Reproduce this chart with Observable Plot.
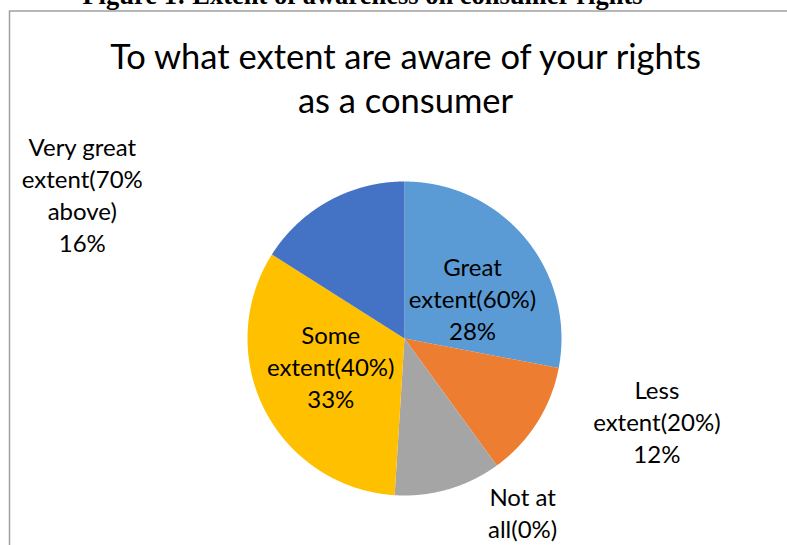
<!DOCTYPE html>
<html>
<head>
<meta charset="utf-8">
<script src="https://cdn.jsdelivr.net/npm/d3@7"></script>
<script src="https://cdn.jsdelivr.net/npm/@observablehq/plot@0.6"></script>
<style>
  html, body { margin: 0; padding: 0; background: #fff; overflow: hidden; }
  #chart { width: 787px; height: 545px; }
</style>
</head>
<body>
<div id="chart"></div>
<script>
// ---- data ----
const categories = ["Great extent(60%)", "Less extent(20%)", "Not at all(0%)", "Some extent(40%)", "Very great extent(70% above)"];
const wrappedNames = ["Great\nextent(60%)", "Less\nextent(20%)", "Not at\nall(0%)", "Some\nextent(40%)", "Very great\nextent(70%\nabove)"];
const shares = [28, 12, 11, 33, 16];
const sliceColors = ["#5B9BD5", "#ED7D31", "#A5A5A5", "#FFC000", "#4472C4"];
const captionText = "Figure 1: Extent of awareness on consumer rights";
const titleText = "To what extent are aware of your rights\nas a consumer";

// ---- layout (label placement in radius units / degrees clockwise from top) ----
const labelPolar = [[0.506, 58.9], [1.69, 108], [1.42, 148], [0.50, 249.9], [2.25, 294.2]];
const W = 787, H = 545, CX = 404, CY = 338, R = 157;

const rows = categories.map((c, i) => ({cat: c, value: shares[i], i}));
const arcs = d3.pie().sort(null).value(d => d.value)(rows);

const pts = [];
for (const a of arcs) {
  pts.push({x: 0, y: 0, cat: a.data.cat});
  const n = Math.max(2, Math.ceil((a.endAngle - a.startAngle) / 0.005));
  for (let k = 0; k <= n; k++) {
    const t = a.startAngle + (a.endAngle - a.startAngle) * k / n;
    pts.push({x: Math.sin(t), y: Math.cos(t), cat: a.data.cat});
  }
}

const labels = rows.map((d, i) => {
  const [r, deg] = labelPolar[i];
  const t = deg * Math.PI / 180;
  return {x: r * Math.sin(t), y: r * Math.cos(t), text: wrappedNames[i] + "\n" + d.value + "%"};
});

const chart = Plot.plot({
  width: W, height: H,
  margin: 0,
  x: {domain: [-CX / R, (W - CX) / R], range: [0, W], axis: null},
  y: {domain: [-(H - CY) / R, CY / R], range: [H, 0], axis: null},
  color: {domain: categories, range: sliceColors},
  style: {fontFamily: "Lato, 'Open Sans', sans-serif", background: "white", overflow: "visible"},
  marks: [
    Plot.frame({stroke: "#a0a0a0", strokeWidth: 1.5, insetLeft: 9, insetTop: 10.5, insetRight: -3, insetBottom: -3}),
    Plot.line(pts, {x: "x", y: "y", z: "cat", fill: "cat", stroke: "none", curve: "linear-closed"}),
    Plot.text(labels, {x: "x", y: "y", text: "text", fontSize: 24, lineHeight: 32 / 24, lineAnchor: "middle", textAnchor: "middle", fill: "black"}),
    Plot.text([titleText], {frameAnchor: "top", text: d => d, dx: 11.5, dy: 37, lineAnchor: "top", fontSize: 34.5, lineHeight: 44 / 34.5, fill: "black"}),
    Plot.text([captionText], {frameAnchor: "top", text: d => d, dx: -31.5, dy: -15.8, lineAnchor: "top", fontSize: 26.5, fontWeight: "bold", fontFamily: "'Liberation Serif', 'Times New Roman', serif", fill: "black"})
  ]
});
document.getElementById("chart").appendChild(chart);
</script>
</body>
</html>
